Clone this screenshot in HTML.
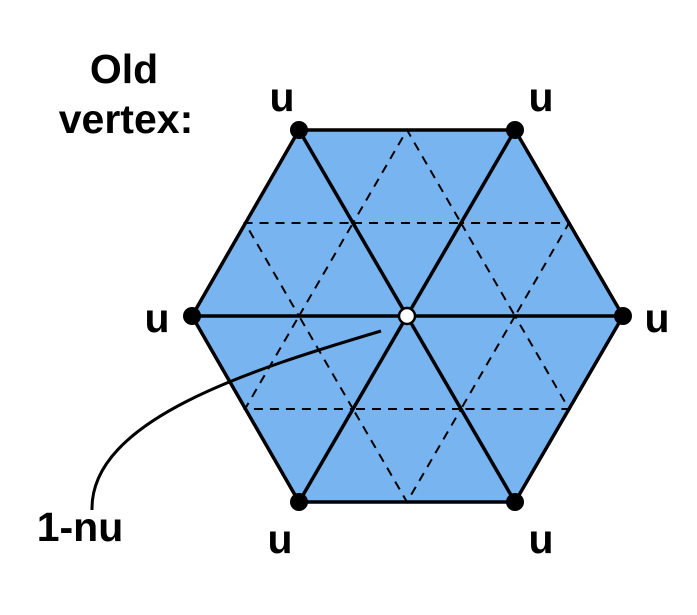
<!DOCTYPE html>
<html><head><style>body{margin:0;background:#fff}svg{display:block}</style></head><body>
<svg width="697" height="615" viewBox="0 0 697 615" xmlns="http://www.w3.org/2000/svg">
<polygon points="299,130 515,130 623,316 515,502 299,502 192,316" fill="#78b4f0" stroke="#000" stroke-width="3.5" stroke-linejoin="round"/>
<g stroke="#000" stroke-width="2" stroke-dasharray="9,7" fill="none">
<polygon points="353,223 461,223 407,130"/>
<polygon points="461,223 515,316 569,223"/>
<polygon points="515,316 461,409 569,409"/>
<polygon points="461,409 353,409 407,502"/>
<polygon points="353,409 299,316 245,409"/>
<polygon points="299,316 353,223 245,223"/>
</g>
<g stroke="#000" stroke-width="3.5">
<line x1="299" y1="130" x2="515" y2="502"/>
<line x1="515" y1="130" x2="299" y2="502"/>
<line x1="192" y1="316" x2="623" y2="316"/>
</g>
<path d="M381,331 C250,370 90,420 92,510" fill="none" stroke="#000" stroke-width="3"/>
<g fill="#000">
<circle cx="299" cy="130" r="9"/><circle cx="515" cy="130" r="9"/>
<circle cx="623" cy="316" r="9"/><circle cx="192" cy="316" r="9"/>
<circle cx="299" cy="502" r="9"/><circle cx="515" cy="502" r="9"/>
</g>
<circle cx="407" cy="316" r="8" fill="#fff" stroke="#000" stroke-width="2.5"/>
<g font-family="Liberation Sans, sans-serif" font-weight="bold" font-size="41" fill="#000">
<text x="124" y="83" text-anchor="middle">Old</text>
<text x="126" y="133" text-anchor="middle">vertex:</text>
<text x="282" y="111" text-anchor="middle">u</text>
<text x="541" y="111" text-anchor="middle">u</text>
<text x="157" y="332" text-anchor="middle">u</text>
<text x="657" y="332" text-anchor="middle">u</text>
<text x="280" y="553" text-anchor="middle">u</text>
<text x="541" y="553" text-anchor="middle">u</text>
<text x="80" y="541" text-anchor="middle">1-nu</text>
</g>
</svg>
</body></html>
